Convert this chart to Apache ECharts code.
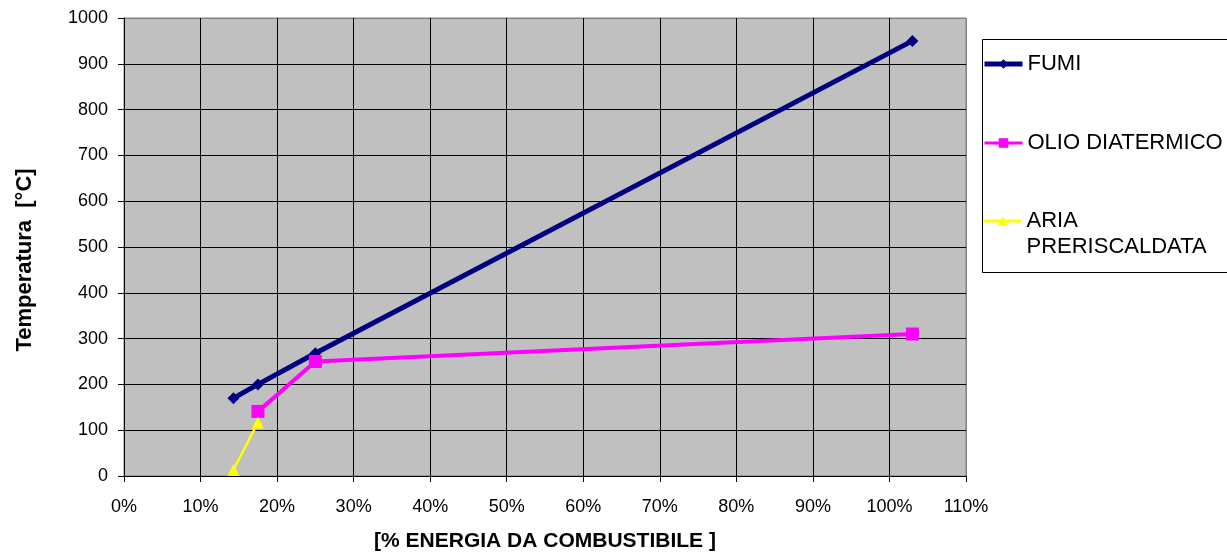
<!DOCTYPE html>
<html>
<head>
<meta charset="utf-8">
<script src="https://cdn.jsdelivr.net/npm/echarts@6/dist/echarts.min.js"></script>
<style>
  html, body { margin: 0; padding: 0; background: #fff; }
  #chart { width: 1227px; height: 557px; }
</style>
</head>
<body>
<div id="chart"></div>
<script>
// Energy share from fuel (%) at each measuring point
const energia = [14.3, 17.5, 25, 103];
// Temperatures (°C)
const fumi = [170, 200, 268, 950];
const olio = [null, 141, 250, 310];
const aria = [13, 117, null, null];

const seriesNames = ['FUMI', 'OLIO DIATERMICO', 'ARIA PRERISCALDATA'];
const xTicks = { min: 0, max: 110, step: 10 };
const yTicks = { min: 0, max: 1000, step: 100 };

function pairs(values) {
  return energia.map((x, i) => [x, values[i]]).filter(p => p[1] != null);
}

// inner grid lines black, outer frame grey
function gridColors(t) {
  const n = Math.round((t.max - t.min) / t.step) + 1;
  return Array.from({ length: n }, (_, i) => (i === n - 1 ? '#808080' : '#000000'));
}

const font = 'Liberation Sans, Arial, sans-serif';
const legendLine = 26;

const legendBase = {
  orient: 'vertical',
  left: 982,
  padding: 0,
  itemWidth: 38, itemHeight: 12,
  itemGap: 53,
  textStyle: { fontFamily: font, fontSize: 22, color: '#000', lineHeight: legendLine }
};

const chart = echarts.init(document.getElementById('chart'), null, { renderer: 'canvas' });

chart.setOption({
  animation: false,
  backgroundColor: '#ffffff',
  grid: {
    left: 124, top: 18, right: 261, bottom: 80,
    show: true, backgroundColor: '#C0C0C0', borderColor: '#808080', borderWidth: 1
  },
  graphic: [{
    type: 'rect', left: 982, top: 39, z: 0,
    shape: { width: 260, height: 233 },
    style: { fill: '#fff', stroke: '#000', lineWidth: 1 }
  }],
  legend: [
    Object.assign({}, legendBase, {
      top: 51,
      data: [
        { name: seriesNames[0], itemStyle: { color: '#000080' }, lineStyle: { color: '#000080', width: 5 } },
        { name: seriesNames[1], itemStyle: { color: '#FF00FF' }, lineStyle: { color: '#FF00FF', width: 3 } }
      ]
    }),
    Object.assign({}, legendBase, {
      top: 182,
      // empty first line keeps the icon level with "ARIA"
      formatter: function () { return '\u00a0\nARIA\nPRERISCALDATA'; },
      data: [
        { name: seriesNames[2], itemStyle: { color: '#FFFF00' }, lineStyle: { color: '#FFFF00', width: 3 } }
      ]
    })
  ],
  xAxis: {
    type: 'value',
    min: xTicks.min, max: xTicks.max, interval: xTicks.step,
    name: '[% ENERGIA DA COMBUSTIBILE ]',
    nameLocation: 'middle', nameGap: 55,
    nameTextStyle: { fontFamily: font, fontSize: 21, fontWeight: 'bold', color: '#000' },
    axisLine: { show: true, onZero: false, lineStyle: { color: '#000', width: 1 } },
    axisTick: { show: true, inside: false, length: 6, lineStyle: { color: '#000' } },
    axisLabel: { fontFamily: font, fontSize: 18, color: '#000', margin: 22, formatter: '{value}%' },
    splitLine: { show: true, lineStyle: { color: gridColors(xTicks), width: 1 } }
  },
  yAxis: {
    type: 'value',
    min: yTicks.min, max: yTicks.max, interval: yTicks.step,
    name: 'Temperatura  [°C]',
    nameLocation: 'middle', nameGap: 88,
    nameTextStyle: { fontFamily: font, fontSize: 22, fontWeight: 'bold', color: '#000', padding: [0, 26, 0, 0] },
    axisLine: { show: true, lineStyle: { color: '#000', width: 1 } },
    axisTick: { show: true, inside: false, length: 6, lineStyle: { color: '#000' } },
    axisLabel: { fontFamily: font, fontSize: 18, color: '#000', margin: 16, formatter: v => String(v) },
    splitLine: { show: true, lineStyle: { color: gridColors(yTicks), width: 1 } }
  },
  series: [
    {
      name: seriesNames[0], type: 'line', data: pairs(fumi),
      symbol: 'diamond', symbolSize: 12,
      lineStyle: { color: '#000080', width: 5 },
      itemStyle: { color: '#000080' }
    },
    {
      name: seriesNames[1], type: 'line', data: pairs(olio),
      symbol: 'rect', symbolSize: 13,
      lineStyle: { color: '#FF00FF', width: 4 },
      itemStyle: { color: '#FF00FF' }
    },
    {
      name: seriesNames[2], type: 'line', data: pairs(aria),
      symbol: 'triangle', symbolSize: 12,
      lineStyle: { color: '#FFFF00', width: 2.5 },
      itemStyle: { color: '#FFFF00' }
    }
  ]
});
</script>
</body>
</html>
